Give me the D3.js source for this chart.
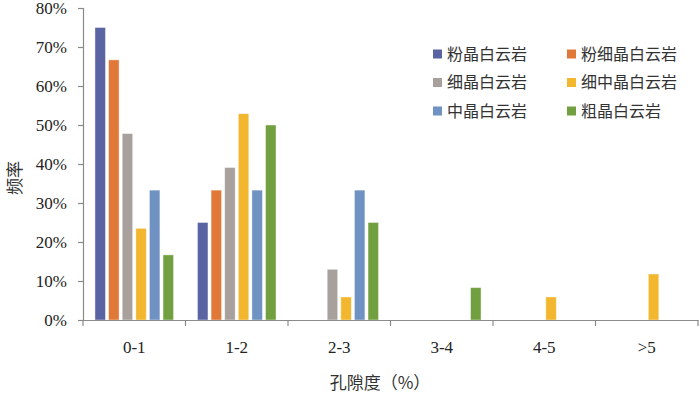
<!DOCTYPE html>
<html>
<head>
<meta charset="utf-8">
<script src="https://cdn.jsdelivr.net/npm/d3@7/dist/d3.min.js"></script>
<style>
  body { margin: 0; background: #fff; }
  svg { display: block; }
  .cjk { font-family: "Noto Sans CJK SC", sans-serif; fill: #333; }
</style>
</head>
<body>
<svg width="700" height="395"></svg>
<script>
// porosity classes
var categories = ["0-1", "1-2", "2-3", "3-4", "4-5", ">5"];
var seriesNames = ["粉晶白云岩", "粉细晶白云岩", "细晶白云岩", "细中晶白云岩", "中晶白云岩", "粗晶白云岩"];
var colors = ["#5a64a3", "#e07838", "#a8a09c", "#f3b62f", "#6f92c2", "#72a040"];

// frequency (%) per class, one array per rock type
var fenJing     = [75.0, 25.0, 0, 0, 0, 0];
var fenXiJing   = [66.7, 33.3, 0, 0, 0, 0];
var xiJing      = [47.8, 39.1, 13.0, 0, 0, 0];
var xiZhongJing = [23.5, 52.9, 5.9, 0, 5.9, 11.8];
var zhongJing   = [33.3, 33.3, 33.3, 0, 0, 0];
var cuJing      = [16.7, 50.0, 25.0, 8.3, 0, 0];

var yTicks = [0, 10, 20, 30, 40, 50, 60, 70, 80];

var series = [fenJing, fenXiJing, xiJing, xiZhongJing, zhongJing, cuJing];

var svg = d3.select("svg");
var margin = {left: 83, right: 2, top: 8, bottom: 75};
var width = 700 - margin.left - margin.right,
  height = 395 - margin.top - margin.bottom;

var g = svg.append("g")
  .attr("transform", "translate(" + margin.left + "," + margin.top + ")");

var x0 = d3.scaleBand()
  .domain(categories)
  .range([0, width])
  .padding(0);

var x1 = d3.scaleBand()
  .domain(d3.range(seriesNames.length))
  .range([0, x0.bandwidth()])
  .paddingInner(0.23)
  .paddingOuter(0.88);

var y = d3.scaleLinear()
  .domain([0, 80])
  .range([height, 0]);

// bars
var groups = g.append("g")
  .selectAll("g")
  .data(categories)
  .enter().append("g")
    .attr("transform", function(d) { return "translate(" + x0(d) + ",0)"; });

groups.selectAll("rect")
  .data(function(d, i) {
    return series.map(function(s, j) { return {k: j, v: s[i]}; })
      .filter(function(e) { return e.v > 0; });
  })
  .enter().append("rect")
    .attr("x", function(d) { return x1(d.k); })
    .attr("width", x1.bandwidth())
    .attr("y", function(d) { return y(d.v); })
    .attr("height", function(d) { return height - y(d.v); })
    .attr("fill", function(d) { return colors[d.k]; })
    .attr("stroke", "#fff")
    .attr("stroke-opacity", 0.5)
    .attr("stroke-width", 0.8);

// y axis
var yAxis = g.append("g")
  .call(d3.axisLeft(y)
    .tickValues(yTicks)
    .tickSize(5)
    .tickPadding(11)
    .tickFormat(function(d) { return d + "%"; }));

// x axis, ticks at class boundaries
var xAxis = g.append("g")
  .attr("transform", "translate(0," + height + ")")
  .call(d3.axisBottom(x0).tickSize(0).tickPadding(21));

xAxis.selectAll(".bound")
  .data(categories.concat([null]))
  .enter().append("line")
    .attr("class", "bound")
    .attr("x1", function(d, i) { return i * x0.step(); })
    .attr("x2", function(d, i) { return i * x0.step(); })
    .attr("y1", 0)
    .attr("y2", 6);

svg.selectAll(".tick text")
  .style("font-family", "'Liberation Serif', 'Times New Roman', serif")
  .style("font-size", "17px")
  .style("fill", "#222");

svg.selectAll(".domain, .tick line, .bound")
  .attr("stroke", "#8a8a8a")
  .attr("stroke-width", 1.2);

// axis titles
svg.append("text")
  .attr("class", "cjk")
  .attr("x", 380)
  .attr("y", 389)
  .attr("text-anchor", "middle")
  .style("font-size", "17px")
  .text("孔隙度（%）");

svg.append("text")
  .attr("class", "cjk")
  .attr("transform", "translate(21,178) rotate(-90)")
  .attr("text-anchor", "middle")
  .style("font-size", "17px")
  .text("频率");

// legend
var legend = svg.append("g")
  .selectAll("g")
  .data(seriesNames)
  .enter().append("g")
    .attr("transform", function(d, i) {
      return "translate(" + (433 + (i % 2) * 134) + "," + (54 + Math.floor(i / 2) * 28.5) + ")";
    });

legend.append("rect")
  .attr("x", 0)
  .attr("y", -4.5)
  .attr("width", 9)
  .attr("height", 9)
  .attr("fill", function(d, i) { return colors[i]; });

legend.append("text")
  .attr("class", "cjk")
  .attr("x", 14)
  .attr("dy", "0.36em")
  .style("font-size", "16px")
  .text(function(d) { return d; });
</script>
</body>
</html>
